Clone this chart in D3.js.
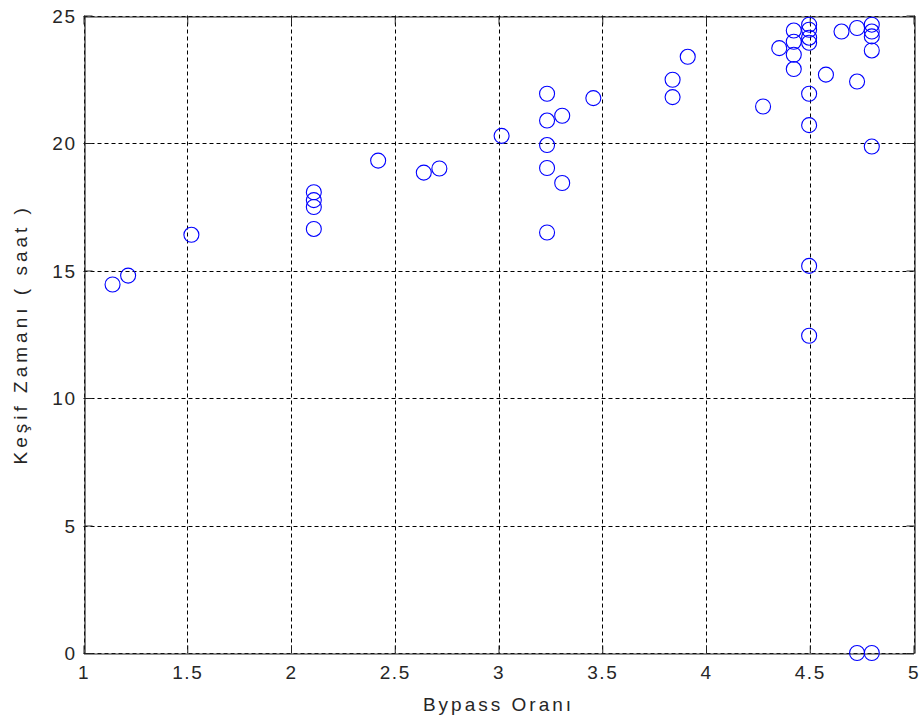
<!DOCTYPE html>
<html>
<head>
<meta charset="utf-8">
<script src="https://cdn.jsdelivr.net/npm/d3@7"></script>
<style>
  html, body { margin: 0; padding: 0; background: #fff; }
  svg { display: block; }
  text { font-family: "Liberation Sans", Arial, sans-serif; fill: #262626; }
</style>
</head>
<body>
<script>
// Bypass ratio vs. detection time, one circle per observation
const bypassOrani = [
  1.14, 1.215, 1.52,
  2.11, 2.11, 2.11, 2.11,
  2.42, 2.64, 2.715,
  3.015,
  3.234, 3.234, 3.234, 3.234, 3.234,
  3.307, 3.307,
  3.457,
  3.839, 3.839,
  3.912,
  4.275, 4.353,
  4.423, 4.423, 4.423, 4.423,
  4.497, 4.497, 4.497, 4.497, 4.497, 4.497, 4.497, 4.497,
  4.578, 4.653,
  4.728, 4.728, 4.728,
  4.799, 4.799, 4.799, 4.799, 4.799, 4.799
];
const kesifZamani = [
  14.45, 14.8, 16.4,
  18.07, 17.76, 17.49, 16.63,
  19.31, 18.84, 19.0,
  20.28,
  21.93, 20.88, 19.92, 19.02, 16.49,
  21.07, 18.43,
  21.76,
  22.48, 21.8,
  23.38,
  21.43, 23.72,
  24.41, 23.97, 23.46, 22.9,
  24.64, 24.44, 24.13, 23.93, 21.93, 20.7, 15.18, 12.44,
  22.68, 24.37,
  24.51, 22.41, 0,
  24.64, 24.37, 24.18, 23.63, 19.86, 0
];
const xTicks = [1, 1.5, 2, 2.5, 3, 3.5, 4, 4.5, 5];
const yTicks = [0, 5, 10, 15, 20, 25];
const xLabel = "Bypass Oranı";
const yLabel = "Keşif Zamanı ( saat )";

const W = 924, H = 725;
const plot = { left: 83.5, right: 913.5, top: 15.5, bottom: 653 };

const svg = d3.select("body").append("svg")
  .attr("width", W).attr("height", H);

const x = d3.scaleLinear().domain([1, 5]).range([plot.left, plot.right]);
const y = d3.scaleLinear().domain([0, 25]).range([plot.bottom, plot.top]);

// dashed grid
const grid = svg.append("g").attr("stroke", "#000").attr("stroke-width", 1)
  .attr("stroke-dasharray", "4,3");
grid.selectAll("line.gx").data(xTicks).join("line").attr("class", "gx")
  .attr("x1", d => Math.round(x(d)) + 0.5).attr("x2", d => Math.round(x(d)) + 0.5)
  .attr("y1", plot.top).attr("y2", plot.bottom);
grid.selectAll("line.gy").data(yTicks).join("line").attr("class", "gy")
  .attr("y1", d => Math.round(y(d)) + 0.5).attr("y2", d => Math.round(y(d)) + 0.5)
  .attr("x1", plot.left).attr("x2", plot.right);

// axes with inward ticks
const tickLen = 8;
const fmt = d => String(d);
const axB = svg.append("g").attr("transform", `translate(0,${Math.round(plot.bottom) + 0.5})`)
  .call(d3.axisBottom(x).tickValues(xTicks).tickFormat(fmt).tickSizeInner(-tickLen).tickSizeOuter(0).tickPadding(12));
const axT = svg.append("g").attr("transform", `translate(0,${Math.round(plot.top) + 0.5})`)
  .call(d3.axisTop(x).tickValues(xTicks).tickFormat("").tickSizeInner(-tickLen).tickSizeOuter(0));
const axL = svg.append("g").attr("transform", `translate(${Math.round(plot.left) + 0.5},0)`)
  .call(d3.axisLeft(y).tickValues(yTicks).tickFormat(fmt).tickSizeInner(-tickLen).tickSizeOuter(0).tickPadding(16));
const axR = svg.append("g").attr("transform", `translate(${Math.round(plot.right) + 0.5},0)`)
  .call(d3.axisRight(y).tickValues(yTicks).tickFormat("").tickSizeInner(-tickLen).tickSizeOuter(0));

[axB, axT, axL, axR].forEach(a => {
  a.select(".domain").attr("stroke", "#222").attr("stroke-width", 1.2);
  a.selectAll(".tick line").attr("stroke", "#222");
  a.selectAll(".tick text")
    .style("font-family", "'Liberation Sans', Arial, sans-serif")
    .style("font-size", "19px").style("letter-spacing", "1.5px").attr("fill", "#262626");
});
axB.selectAll(".tick text").attr("dy", "0.71em");
axL.selectAll(".tick text").attr("x", -8).attr("dy", "0.36em");

// markers
svg.append("g").selectAll("circle").data(bypassOrani).join("circle")
  .attr("cx", (d, i) => x(d))
  .attr("cy", (d, i) => y(kesifZamani[i]))
  .attr("r", 7.5)
  .attr("fill", "none")
  .attr("stroke", "#0000ff")
  .attr("stroke-width", 1.1);

// axis titles
svg.append("text")
  .attr("x", (plot.left + plot.right) / 2).attr("y", 711)
  .attr("text-anchor", "middle")
  .style("font-size", "19px").style("letter-spacing", "3px")
  .text(xLabel);
svg.append("text")
  .attr("transform", `translate(27,${(plot.top + plot.bottom) / 2}) rotate(-90)`)
  .attr("text-anchor", "middle")
  .style("font-size", "19px").style("letter-spacing", "4px")
  .text(yLabel);
</script>
</body>
</html>
